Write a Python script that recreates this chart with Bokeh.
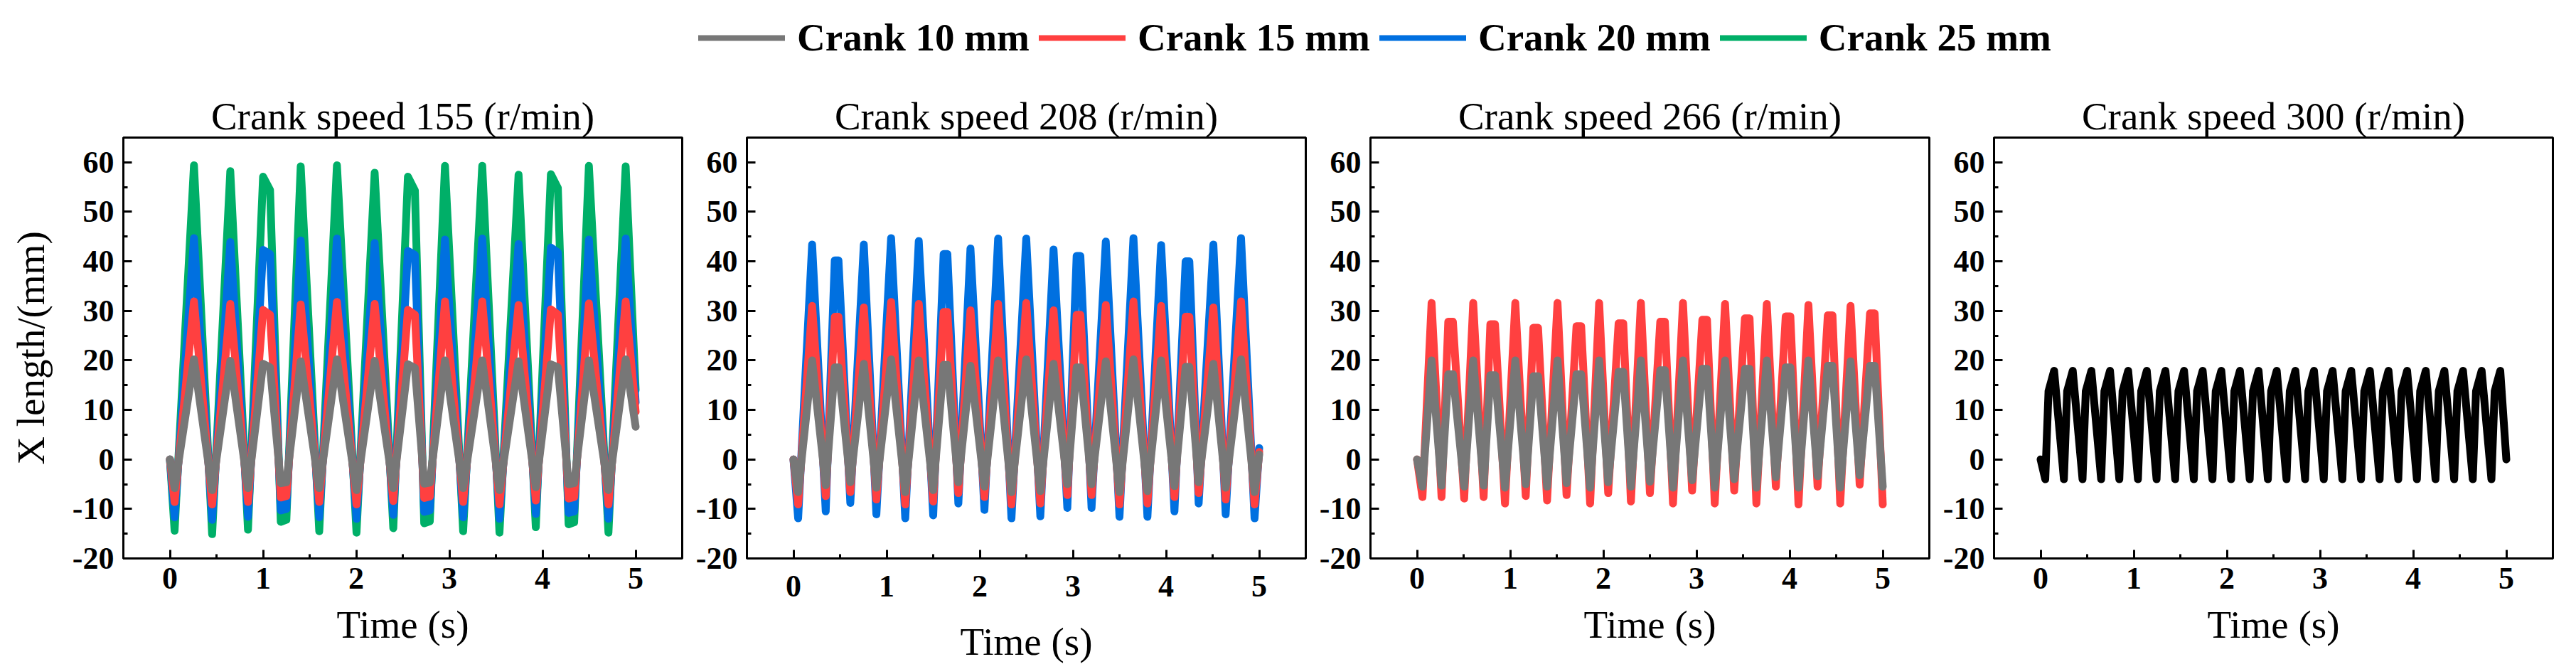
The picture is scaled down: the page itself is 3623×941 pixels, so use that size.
from bokeh.plotting import figure
from bokeh.layouts import column, row
from bokeh.models import Range1d, FixedTicker, Legend, LegendItem
from bokeh.embed import file_html
from bokeh.resources import INLINE

SERIF = "Liberation Serif"

# ---- series names and colours ----
series_names = ["Crank 10 mm", "Crank 15 mm", "Crank 20 mm", "Crank 25 mm"]
series_colors = ["#777777", "#FF4040", "#0070E0", "#00AF68"]
speed_titles = ["Crank speed 155 (r/min)", "Crank speed 208 (r/min)",
                "Crank speed 266 (r/min)", "Crank speed 300 (r/min)"]

x_ticks = [0, 1, 2, 3, 4, 5]
x_minor = [0.5, 1.5, 2.5, 3.5, 4.5]
y_ticks = [-20, -10, 0, 10, 20, 30, 40, 50, 60]
y_minor = [-15, -5, 5, 15, 25, 35, 45, 55]

# ---- 155 r/min ----
t155 = [0.0, 0.05, 0.258, 0.453, 0.648, 0.838, 1.0, 1.075, 1.19, 1.25, 1.404,
        1.603, 1.793, 2.003, 2.198, 2.398, 2.555, 2.63, 2.73, 2.79, 2.953,
        3.148, 3.353, 3.538, 3.743, 3.928, 4.09, 4.165, 4.28, 4.34, 4.498,
        4.708, 4.893, 5.0]
x155_10 = [0, -5.8, 20.2, -6.2, 19.9, -5.8, 19.3, 18.6, -4.8, -4.6, 19.8,
           -5.8, 20.2, -6.2, 19.9, -5.8, 19.2, 18.5, -4.9, -4.7, 20.0,
           -5.8, 20.0, -6.2, 19.8, -5.6, 19.2, 18.6, -5.0, -4.8, 20.0,
           -6.2, 20.2, 6.6]
x155_15 = [0, -8.6, 31.9, -9.1, 31.4, -8.6, 30.2, 29.2, -7.7, -7.4, 31.3,
           -8.6, 31.8, -9.1, 31.4, -8.4, 30.2, 29.2, -7.8, -7.5, 31.9,
           -8.6, 31.9, -9.1, 31.2, -8.3, 30.3, 29.3, -7.9, -7.6, 31.5,
           -9.1, 31.9, 9.6]
x155_20 = [0, -11.7, 44.7, -12.2, 43.9, -11.6, 42.3, 41.5, -10.3, -10.0, 44.2,
           -11.7, 44.6, -12.0, 43.7, -11.2, 42.1, 41.3, -10.6, -10.3, 44.4,
           -11.7, 44.6, -12.0, 43.5, -11.0, 42.8, 41.8, -10.8, -10.5, 44.4,
           -12.0, 44.6, 11.5]
x155_25 = [0, -14.4, 59.4, -15.1, 58.2, -14.2, 57.1, 54.4, -12.6, -12.2, 59.2,
           -14.5, 59.4, -14.8, 57.9, -13.9, 57.1, 54.3, -12.9, -12.5, 59.3,
           -14.5, 59.3, -14.8, 57.5, -13.7, 57.6, 54.8, -13.1, -12.7, 59.3,
           -14.8, 59.2, 14.0]

# ---- 208 r/min ----
t208 = [0.0, 0.05, 0.20, 0.346, 0.443, 0.483, 0.61, 0.755, 0.89, 1.048,
        1.20, 1.345, 1.50, 1.612, 1.652, 1.77, 1.90, 2.05, 2.197, 2.34,
        2.499, 2.65, 2.792, 2.94, 3.04, 3.08, 3.20, 3.353, 3.50, 3.65,
        3.80, 3.947, 4.09, 4.21, 4.25, 4.35, 4.508, 4.64, 4.805, 4.95, 5.0]
x208_10 = [0, -6.6, 20.0, -5.2, 18.6, 18.6, -4.6, 19.3, -5.7, 20.2,
           -6.6, 20.0, -6.2, 19.1, 19.1, -4.6, 18.9, -5.5, 20.0, -6.6,
           20.2, -6.4, 19.3, -5.0, 18.6, 18.6, -5.0, 19.8, -6.6, 20.2,
           -6.4, 20.0, -5.4, 18.7, 18.7, -4.6, 19.3, -5.7, 20.2, -6.6, 1.0]
x208_15 = [0, -9.1, 31.0, -7.4, 28.8, 28.8, -6.6, 30.7, -8.1, 31.8,
           -9.1, 31.4, -8.5, 29.8, 29.8, -6.8, 30.1, -7.6, 31.4, -9.1,
           31.6, -8.9, 30.1, -7.2, 29.2, 29.2, -7.2, 31.2, -9.1, 31.9,
           -8.9, 31.0, -7.6, 28.8, 28.8, -6.8, 30.7, -8.1, 31.9, -9.1, 1.5]
x208_20 = [0, -11.9, 43.4, -10.5, 40.2, 40.2, -8.8, 43.4, -11.1, 44.7,
           -11.9, 44.1, -11.3, 41.5, 41.5, -8.9, 42.6, -10.2, 44.6, -11.9,
           44.6, -11.5, 42.4, -9.8, 41.1, 41.1, -9.8, 44.0, -11.6, 44.7,
           -11.6, 43.3, -10.5, 40.0, 40.0, -8.9, 43.4, -11.1, 44.7, -11.9, 2.3]

# ---- 266 r/min ----
t266 = [0.0,
        0.058, 0.156, 0.263, 0.335, 0.385,
        0.506, 0.603, 0.715, 0.787, 0.837,
        0.944, 1.055, 1.167, 1.249, 1.299,
        1.396, 1.508, 1.605, 1.712, 1.762,
        1.858, 1.955, 2.052, 2.164, 2.214,
        2.296, 2.403, 2.500, 2.611, 2.661,
        2.748, 2.855, 2.953, 3.063, 3.113,
        3.196, 3.307, 3.405, 3.520, 3.570,
        3.643, 3.755, 3.852, 3.958, 4.008,
        4.095, 4.202, 4.300, 4.410, 4.460,
        4.543, 4.654, 4.752, 4.863, 4.913,
        5.0]
x266_10 = [0,
           -5.5, 20.0, -5.3, 17.2, 17.2,
           -5.5, 20.0, -5.3, 17.0, 17.0,
           -5.7, 20.0, -5.0, 16.8, 16.8,
           -5.5, 20.0, -4.8, 17.2, 17.2,
           -5.7, 20.0, -4.6, 17.7, 17.7,
           -5.5, 20.0, -4.5, 18.0, 18.0,
           -5.7, 20.0, -4.2, 18.3, 18.3,
           -5.7, 20.0, -4.0, 18.3, 18.3,
           -5.7, 20.0, -3.6, 18.6, 18.6,
           -5.7, 20.0, -3.4, 18.9, 18.9,
           -5.7, 19.8, -3.2, 18.9, 18.9,
           -5.5]
x266_15 = [0,
           -7.6, 31.6, -7.6, 27.8, 27.8,
           -7.9, 31.6, -7.6, 27.3, 27.3,
           -8.9, 31.6, -7.4, 26.6, 26.6,
           -8.3, 31.6, -7.2, 26.9, 26.9,
           -8.9, 31.6, -6.8, 27.5, 27.5,
           -8.5, 31.6, -6.8, 27.8, 27.8,
           -8.9, 31.6, -6.3, 28.2, 28.2,
           -8.9, 31.4, -6.3, 28.5, 28.5,
           -8.9, 31.4, -5.5, 28.9, 28.9,
           -9.1, 31.2, -5.5, 29.1, 29.1,
           -8.9, 31.0, -5.1, 29.5, 29.5,
           -9.1]

# ---- 300 r/min (trough, shoulder, crest of every cycle) ----
t300 = [0.0,
        0.05, 0.085, 0.145, 0.25, 0.285, 0.345, 0.45, 0.485, 0.545,
        0.65, 0.685, 0.745, 0.845, 0.88, 0.94, 1.045, 1.08, 1.14,
        1.245, 1.28, 1.34, 1.445, 1.48, 1.54, 1.645, 1.68, 1.74,
        1.845, 1.88, 1.94, 2.045, 2.08, 2.14, 2.245, 2.28, 2.34,
        2.44, 2.475, 2.535, 2.64, 2.675, 2.735, 2.84, 2.875, 2.935,
        3.04, 3.075, 3.135, 3.24, 3.275, 3.335, 3.44, 3.475, 3.535,
        3.64, 3.675, 3.735, 3.84, 3.875, 3.935, 4.04, 4.075, 4.135,
        4.24, 4.275, 4.335, 4.44, 4.475, 4.535, 4.64, 4.675, 4.735,
        4.84, 4.875, 4.935,
        5.0]
x300_10 = [0,
           -4.0, 13.8, 17.9, -4.0, 13.8, 17.9, -4.0, 13.8, 17.9,
           -4.0, 13.8, 17.9, -4.0, 13.8, 17.9, -4.0, 13.8, 17.9,
           -4.0, 13.8, 17.9, -4.0, 13.8, 17.9, -4.0, 13.8, 17.9,
           -4.0, 13.8, 17.9, -4.0, 13.8, 17.9, -4.0, 13.8, 17.9,
           -4.0, 13.8, 17.9, -4.0, 13.8, 17.9, -4.0, 13.8, 17.9,
           -4.0, 13.8, 17.9, -4.0, 13.8, 17.9, -4.0, 13.8, 17.9,
           -4.0, 13.8, 17.9, -4.0, 13.8, 17.9, -4.0, 13.8, 17.9,
           -4.0, 13.8, 17.9, -4.0, 13.8, 17.9, -4.0, 13.8, 17.9,
           -4.0, 13.8, 17.9,
           0.0]

FRAME_W, FRAME_H = 786, 592
LEG_H = 110
TOP, BOTTOM = 193 - LEG_H, 156


def style_panel(p, tick_standoff, label_standoff):
    p.xgrid.visible = False
    p.ygrid.visible = False
    p.outline_line_color = "black"
    p.outline_line_width = 3
    p.title.align = "center"
    p.title.text_font = SERIF
    p.title.text_font_size = "55px"
    p.title.text_font_style = "normal"
    p.title.text_color = "black"
    p.title.standoff = 0
    for ax in (p.xaxis[0], p.yaxis[0]):
        ax.axis_line_width = 3
        ax.axis_line_color = "black"
        ax.major_tick_line_width = 3
        ax.minor_tick_line_width = 3
        ax.major_tick_in = 12
        ax.major_tick_out = 0
        ax.minor_tick_in = 6
        ax.minor_tick_out = 0
        ax.major_label_text_font = SERIF
        ax.major_label_text_font_size = "44px"
        ax.major_label_text_font_style = "bold"
        ax.major_label_text_color = "black"
        ax.axis_label_text_font = SERIF
        ax.axis_label_text_font_size = "55px"
        ax.axis_label_text_font_style = "normal"
        ax.axis_label_text_color = "black"
    p.xaxis.ticker = FixedTicker(ticks=x_ticks, minor_ticks=x_minor)
    p.yaxis.ticker = FixedTicker(ticks=y_ticks, minor_ticks=y_minor)
    p.xaxis.major_label_overrides = {v: str(v) for v in x_ticks}
    p.yaxis.major_label_overrides = {v: str(v) for v in y_ticks}
    p.xaxis.axis_label = "Time (s)"
    p.xaxis.major_label_standoff = tick_standoff
    p.xaxis.axis_label_standoff = label_standoff
    p.yaxis.major_label_standoff = 13


def make_panel(title, left, right, tick_standoff=13, label_standoff=17):
    p = figure(title=title, frame_width=FRAME_W, frame_height=FRAME_H,
               min_border_left=left, min_border_right=right,
               min_border_top=TOP, min_border_bottom=BOTTOM,
               x_range=Range1d(-0.5, 5.5), y_range=Range1d(-20, 65),
               output_backend="svg", toolbar_location=None)
    style_panel(p, tick_standoff, label_standoff)
    return p


def trace(p, t, x, color):
    p.line(t, x, line_color=color, line_width=11,
           line_join="round", line_cap="round")


p1 = make_panel(speed_titles[0], 173, 5)
p1.yaxis.axis_label = "X length/(mm)"
p1.yaxis.axis_label_standoff = 25
for vals, c in [(x155_25, series_colors[3]), (x155_20, series_colors[2]),
                (x155_15, series_colors[1]), (x155_10, series_colors[0])]:
    trace(p1, t155, vals, c)

p2 = make_panel(speed_titles[1], 86, 5, tick_standoff=24, label_standoff=30)
for vals, c in [(x208_20, series_colors[2]), (x208_15, series_colors[1]),
                (x208_10, series_colors[0])]:
    trace(p2, t208, vals, c)

p3 = make_panel(speed_titles[2], 86, 5)
for vals, c in [(x266_15, series_colors[1]), (x266_10, series_colors[0])]:
    trace(p3, t266, vals, c)

p4 = make_panel(speed_titles[3], 86, 33)
trace(p4, t300, x300_10, "black")

# ---- shared legend strip ----
# the swatch renderers hold a point outside the visible range, so only the
# legend glyphs show up in this strip
leg = figure(width=3623, height=LEG_H, x_range=Range1d(0, 1), y_range=Range1d(0, 1),
             output_backend="svg", toolbar_location=None,
             x_axis_location=None, y_axis_location=None,
             min_border_left=0, min_border_right=0, min_border_top=0, min_border_bottom=0)
leg.outline_line_color = None
leg.xgrid.visible = False
leg.ygrid.visible = False
items = []
for name, c in zip(series_names, series_colors):
    r = leg.line(x=[-10, -9], y=[-10, -10], line_color=c, line_width=8, line_cap="round")
    items.append(LegendItem(label=name, renderers=[r]))
legend = Legend(items=items, orientation="horizontal", location=(982, 26),
                glyph_width=122, glyph_height=40, label_standoff=17, spacing=13,
                padding=0, margin=0, border_line_color=None,
                background_fill_alpha=0,
                label_text_font=SERIF, label_text_font_size="55px",
                label_text_font_style="bold", label_text_color="black")
leg.add_layout(legend, "center")

layout = column(leg, row(p1, p2, p3, p4, spacing=0), spacing=0)

with open("out.html", "w") as f:
    f.write(file_html(layout, INLINE))
